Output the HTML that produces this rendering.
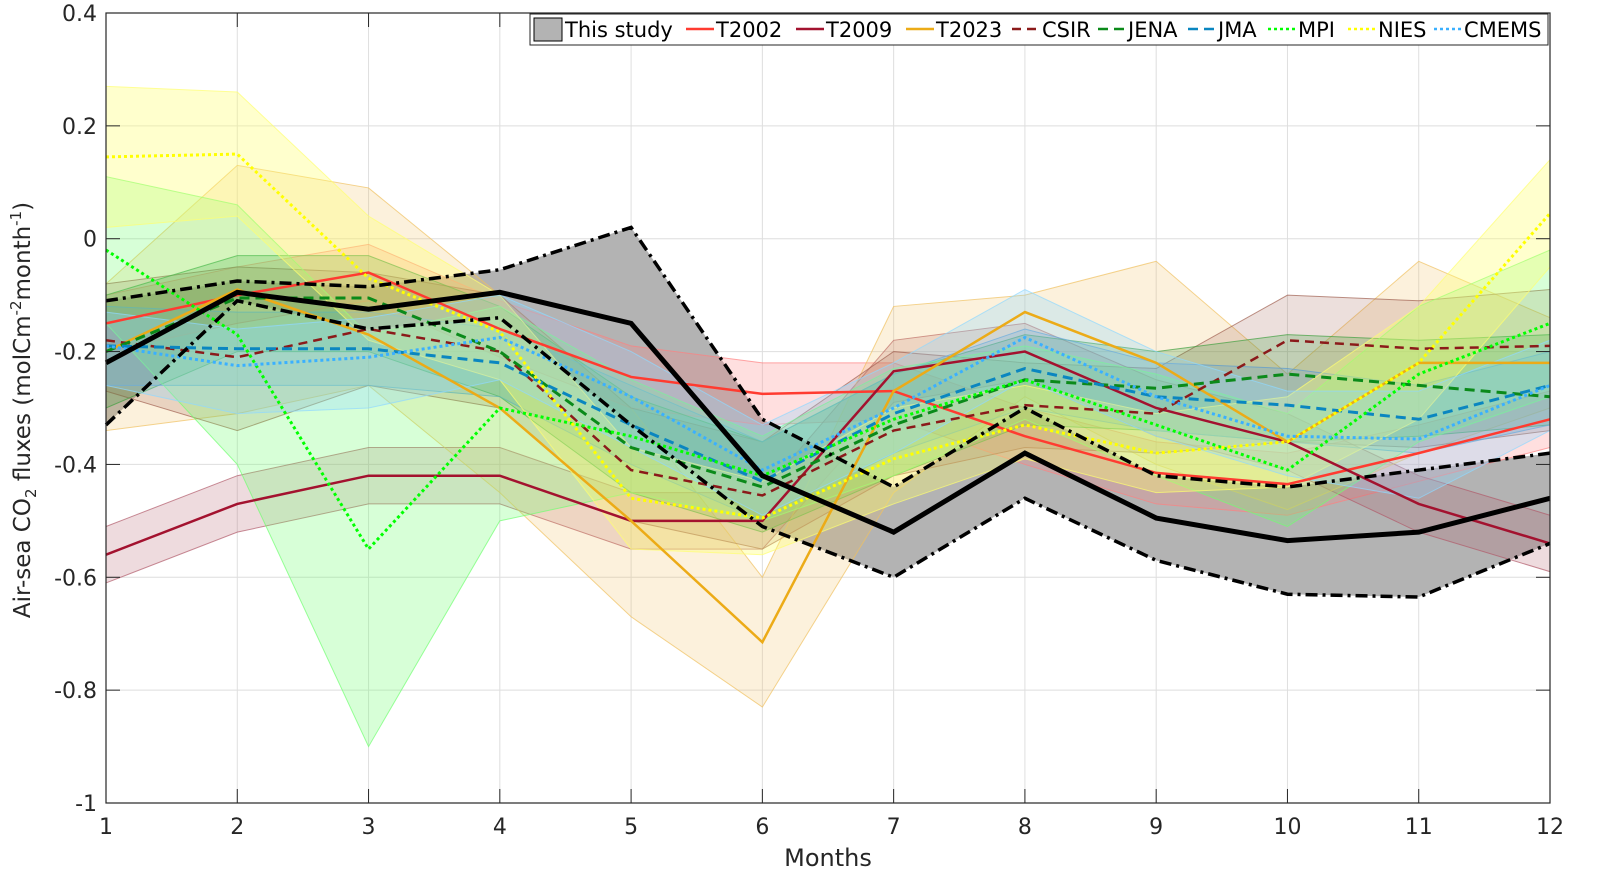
<!DOCTYPE html>
<html><head><meta charset="utf-8"><style>
html,body{margin:0;padding:0;background:#fff}
svg{display:block;font-family:"DejaVu Sans","Liberation Sans",sans-serif}
</style></head><body>
<svg id="chart" width="1616" height="896" viewBox="0 0 1616 896">
<rect x="0" y="0" width="1616" height="896" fill="#fff"/>
<g id="grid"></g>
<g id="bands"></g>
<g id="lines"></g>
<rect x="106" y="13" width="1444" height="790" fill="none" stroke="#262626" stroke-width="1.2"/>
<g id="ticks" font-size="22" fill="#262626"></g>
<text x="828" y="866" text-anchor="middle" font-size="24" fill="#262626">Months</text>
<text transform="translate(30,410) rotate(-90)" text-anchor="middle" font-size="23" fill="#262626">Air-sea CO<tspan font-size="15" dy="6">2</tspan><tspan dy="-6"> fluxes (molCm</tspan><tspan font-size="15" dy="-9">-2</tspan><tspan dy="9">month</tspan><tspan font-size="15" dy="-9">-1</tspan><tspan dy="9">)</tspan></text>
<g id="legend"></g>
</svg>
<script>
const months=[1,2,3,4,5,6,7,8,9,10,11,12];
const yTicks=[0.4,0.2,0,-0.2,-0.4,-0.6,-0.8,-1];
const yTickLabels=["0.4","0.2","0","-0.2","-0.4","-0.6","-0.8","-1"];
const studyMean=[-0.22,-0.095,-0.125,-0.095,-0.15,-0.42,-0.52,-0.38,-0.495,-0.535,-0.52,-0.46];
const studyLo=[-0.33,-0.11,-0.16,-0.14,-0.33,-0.51,-0.6,-0.46,-0.57,-0.63,-0.635,-0.54];
const studyHi=[-0.11,-0.075,-0.085,-0.055,0.02,-0.32,-0.44,-0.3,-0.42,-0.44,-0.41,-0.38];
const t2002Mean=[-0.15,-0.1,-0.06,-0.16,-0.245,-0.275,-0.27,-0.35,-0.415,-0.435,-0.38,-0.32];
const t2002Lo=[-0.2,-0.15,-0.11,-0.21,-0.3,-0.33,-0.32,-0.4,-0.47,-0.49,-0.43,-0.37];
const t2002Hi=[-0.1,-0.05,-0.01,-0.11,-0.19,-0.22,-0.22,-0.3,-0.36,-0.38,-0.33,-0.27];
const t2009Mean=[-0.56,-0.47,-0.42,-0.42,-0.5,-0.5,-0.235,-0.2,-0.3,-0.36,-0.47,-0.54];
const t2009Lo=[-0.61,-0.52,-0.47,-0.47,-0.55,-0.55,-0.29,-0.25,-0.35,-0.41,-0.52,-0.59];
const t2009Hi=[-0.51,-0.42,-0.37,-0.37,-0.45,-0.45,-0.18,-0.15,-0.25,-0.31,-0.42,-0.49];
const t2023Mean=[-0.2,-0.09,-0.17,-0.3,-0.5,-0.715,-0.27,-0.13,-0.22,-0.36,-0.22,-0.22];
const t2023Lo=[-0.34,-0.31,-0.26,-0.45,-0.67,-0.83,-0.45,-0.28,-0.4,-0.48,-0.38,-0.3];
const t2023Hi=[-0.08,0.13,0.09,-0.1,-0.3,-0.6,-0.12,-0.1,-0.04,-0.24,-0.04,-0.14];
const csirMean=[-0.18,-0.21,-0.16,-0.2,-0.41,-0.455,-0.34,-0.295,-0.31,-0.18,-0.195,-0.19];
const csirLo=[-0.27,-0.34,-0.26,-0.3,-0.5,-0.55,-0.42,-0.37,-0.38,-0.36,-0.37,-0.34];
const csirHi=[-0.08,-0.05,-0.06,-0.1,-0.3,-0.36,-0.2,-0.22,-0.23,-0.1,-0.11,-0.09];
const jenaMean=[-0.2,-0.105,-0.105,-0.2,-0.37,-0.44,-0.33,-0.25,-0.265,-0.24,-0.26,-0.28];
const jenaLo=[-0.3,-0.2,-0.2,-0.28,-0.45,-0.52,-0.42,-0.33,-0.34,-0.36,-0.35,-0.33];
const jenaHi=[-0.1,-0.03,-0.03,-0.12,-0.28,-0.36,-0.24,-0.17,-0.2,-0.17,-0.18,-0.17];
const jmaMean=[-0.19,-0.195,-0.195,-0.22,-0.33,-0.43,-0.31,-0.23,-0.28,-0.295,-0.32,-0.26];
const jmaLo=[-0.26,-0.26,-0.26,-0.28,-0.4,-0.5,-0.38,-0.3,-0.34,-0.36,-0.38,-0.33];
const jmaHi=[-0.12,-0.13,-0.13,-0.16,-0.26,-0.36,-0.24,-0.16,-0.22,-0.23,-0.26,-0.2];
const mpiMean=[-0.02,-0.17,-0.55,-0.3,-0.35,-0.42,-0.32,-0.25,-0.33,-0.41,-0.24,-0.15];
const mpiLo=[-0.15,-0.4,-0.9,-0.5,-0.45,-0.5,-0.42,-0.32,-0.42,-0.51,-0.36,-0.28];
const mpiHi=[0.11,0.06,-0.17,-0.12,-0.25,-0.35,-0.23,-0.19,-0.24,-0.31,-0.12,-0.02];
const niesMean=[0.145,0.15,-0.07,-0.165,-0.46,-0.495,-0.39,-0.33,-0.38,-0.36,-0.22,0.045];
const niesLo=[0.02,0.04,-0.18,-0.25,-0.55,-0.56,-0.47,-0.39,-0.45,-0.44,-0.32,-0.05];
const niesHi=[0.27,0.26,0.04,-0.1,-0.37,-0.43,-0.3,-0.26,-0.31,-0.28,-0.12,0.14];
const cmemsMean=[-0.19,-0.225,-0.21,-0.175,-0.28,-0.41,-0.3,-0.175,-0.28,-0.35,-0.355,-0.26];
const cmemsLo=[-0.26,-0.31,-0.3,-0.25,-0.37,-0.49,-0.38,-0.25,-0.35,-0.42,-0.46,-0.34];
const cmemsHi=[-0.13,-0.16,-0.14,-0.1,-0.2,-0.33,-0.22,-0.09,-0.2,-0.27,-0.27,-0.18];

const NS="http://www.w3.org/2000/svg";
const X0=106,X1=1550,Y0=13,Y1=803;
function xs(m){return X0+(m-1)/11*(X1-X0);}
function ys(v){return Y0+(0.4-v)/1.4*(Y1-Y0);}
function mk(tag,parent,attrs){const e=document.createElementNS(NS,tag);for(const k in attrs)e.setAttribute(k,attrs[k]);parent.appendChild(e);return e;}
function pts(arr){return arr.map((v,i)=>xs(months[i])+","+ys(v)).join(" ");}
function band(hi,lo){return hi.map((v,i)=>xs(months[i])+","+ys(v)).concat(lo.map((v,i)=>xs(months[i])+","+ys(v)).reverse()).join(" ");}

const grid=document.getElementById('grid'),ticks=document.getElementById('ticks');
months.forEach(m=>{
  const l=mk('line',grid,{x1:xs(m),x2:xs(m),y1:Y0,y2:Y1,stroke:'#dedede','stroke-width':1});
  
  
  const t=mk('text',ticks,{x:xs(m),y:834,'text-anchor':'middle'});t.textContent=m;
  
  
  mk('line',ticks,{x1:xs(m),x2:xs(m),y1:Y1,y2:Y1-14,stroke:'#262626','stroke-width':1});
  mk('line',ticks,{x1:xs(m),x2:xs(m),y1:Y0,y2:Y0+14,stroke:'#262626','stroke-width':1});
});
yTicks.forEach((v,i)=>{
  const l=mk('line',grid,{x1:X0,x2:X1,y1:ys(v),y2:ys(v),stroke:'#dedede','stroke-width':1});
  
  
  const t=mk('text',ticks,{x:97,y:ys(v)+8,'text-anchor':'end'});t.textContent=yTickLabels[i];
  
  
  mk('line',ticks,{x1:X0,x2:X0+14,y1:ys(v),y2:ys(v),stroke:'#262626','stroke-width':1});
  mk('line',ticks,{x1:X1,x2:X1-14,y1:ys(v),y2:ys(v),stroke:'#262626','stroke-width':1});
});

const series=[
 {name:'T2002',mean:t2002Mean,lo:t2002Lo,hi:t2002Hi,col:'#ff3b30',fill:'#ff8080',fo:0.25,w:2.5,dash:''},
 {name:'T2009',mean:t2009Mean,lo:t2009Lo,hi:t2009Hi,col:'#a3122f',fill:'#b05a6a',fo:0.22,w:2.5,dash:''},
 {name:'T2023',mean:t2023Mean,lo:t2023Lo,hi:t2023Hi,col:'#ecab17',fill:'#f0c060',fo:0.22,w:2.5,dash:''},
 {name:'CSIR',mean:csirMean,lo:csirLo,hi:csirHi,col:'#8b1a1a',fill:'#a06050',fo:0.2,w:2.5,dash:'9,6'},
 {name:'JENA',mean:jenaMean,lo:jenaLo,hi:jenaHi,col:'#0b8a1a',fill:'#40a040',fo:0.25,w:3,dash:'10,6'},
 {name:'JMA',mean:jmaMean,lo:jmaLo,hi:jmaHi,col:'#0a86c0',fill:'#5a9ad0',fo:0.25,w:3,dash:'10,6'},
 {name:'MPI',mean:mpiMean,lo:mpiLo,hi:mpiHi,col:'#00ff00',fill:'#70ff70',fo:0.28,w:3,dash:'3,3'},
 {name:'NIES',mean:niesMean,lo:niesLo,hi:niesHi,col:'#ffff00',fill:'#ffff70',fo:0.35,w:3,dash:'3,3'},
 {name:'CMEMS',mean:cmemsMean,lo:cmemsLo,hi:cmemsHi,col:'#3ab0ff',fill:'#90d8ff',fo:0.3,w:3,dash:'3,3'}
];
const bands=document.getElementById('bands'),lines=document.getElementById('lines');
const sb=mk('polygon',bands,{points:band(studyHi,studyLo),fill:'#b3b3b3',stroke:'none'});


series.forEach(s=>{
  const p=mk('polygon',bands,{points:band(s.hi,s.lo),fill:s.fill,'fill-opacity':s.fo,stroke:s.fill,'stroke-opacity':0.7,'stroke-width':1});
  
  
});
series.forEach(s=>{
  const l=mk('polyline',lines,{points:pts(s.mean),fill:'none',stroke:s.col,'stroke-width':s.w,'stroke-dasharray':s.dash});
  
  
});
const sh=mk('polyline',lines,{points:pts(studyHi),fill:'none',stroke:'#000','stroke-width':3.5,'stroke-dasharray':'12,5,3,5'});


const sl=mk('polyline',lines,{points:pts(studyLo),fill:'none',stroke:'#000','stroke-width':3.5,'stroke-dasharray':'12,5,3,5'});


const sm=mk('polyline',lines,{points:pts(studyMean),fill:'none',stroke:'#000','stroke-width':5});



const lg=document.getElementById('legend');
mk('rect',lg,{x:530,y:14,width:1018,height:31,fill:'#fff',stroke:'#262626','stroke-width':1});
const lp=mk('rect',lg,{x:534,y:18,width:28,height:23,fill:'#b3b3b3',stroke:'#000','stroke-width':1});


const lt=mk('text',lg,{x:565,y:37,'font-size':21,fill:'#000'});lt.textContent='This study';


const legX=[686,796,906,1012,1098,1188,1268,1348,1434];
series.forEach((s,i)=>{
  const x=legX[i];
  mk('line',lg,{x1:x,x2:x+28,y1:29,y2:29,stroke:s.col,'stroke-width':2.5,'stroke-dasharray':s.dash});
  const t=mk('text',lg,{x:x+30,y:37,'font-size':21,fill:'#000'});t.textContent=s.name;
  
  
});
</script>
</body></html>
